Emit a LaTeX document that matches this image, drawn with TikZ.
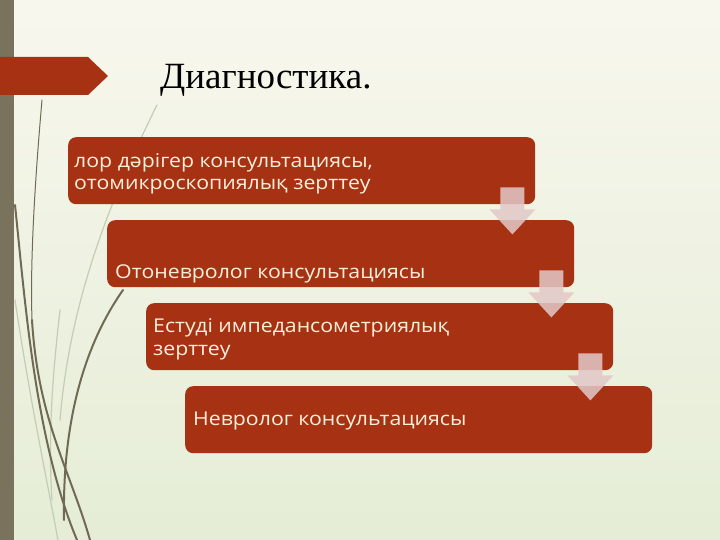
\documentclass[tikz,border=0pt]{standalone}
\usepackage{fontspec}
\setmainfont{Liberation Serif}
\newfontfamily\boxfont[FakeStretch=1.12]{Open Sans}
\usetikzlibrary{calc}
\definecolor{bgtop}{RGB}{248,247,238}
\definecolor{bgbot}{RGB}{229,237,214}
\definecolor{sidebar}{RGB}{121,114,92}
\definecolor{brick}{RGB}{166,50,19}
\definecolor{cream}{RGB}{252,240,218}
\definecolor{arrowfill}{RGB}{226,200,200}
\definecolor{grass}{RGB}{112,106,84}
\definecolor{grasslight}{RGB}{196,204,180}
\begin{document}
\begin{tikzpicture}[x=1pt,y=-1pt,
  stagebox/.style={fill=brick, rounded corners=8pt, minimum width=467pt,
    minimum height=67pt, anchor=north west, inner sep=0pt},
  stagetext/.style={anchor=base west, text=cream, align=left, inner sep=0pt,
    font=\boxfont\fontsize{19}{22.5}\selectfont},
  flowarrow/.style={fill=arrowfill, fill opacity=0.85},
  grassdark/.style={draw=grass, line width=2pt, line cap=round},
  grassthin/.style={draw=grass, line width=1pt, line cap=round},
  grasspale/.style={draw=grasslight, line width=1.2pt, line cap=round},
]
\useasboundingbox (0,0) rectangle (720,540);
\shade[top color=bgtop, bottom color=bgbot] (0,0) rectangle (720,540);
% side bar
\fill[sidebar] (0,0) rectangle (14,540);
% grass decoration
\draw[grasspale] (157,105) .. controls (110,200) and (70,300) .. (60,420);
\draw[grasspale] (15,300) .. controls (30,400) and (45,470) .. (58,540);
\draw[grasspale] (60,310) .. controls (52,380) and (48,440) .. (52,500);
\draw[grassthin] (42,100) .. controls (35,180) and (30,260) .. (32,320);
\draw[grassdark] (32,320) .. controls (38,420) and (70,470) .. (90,540);
\draw[grassdark] (15,205) .. controls (25,300) and (35,440) .. (77,540);
\draw[grassdark] (123,290) .. controls (95,330) and (62,400) .. (64,520);
% title marker
\fill[brick] (0,57) -- (88,57) -- (108,76) -- (88,95) -- (0,95) -- cycle;
\node[anchor=base west, inner sep=0pt, font=\fontsize{37}{40}\selectfont] (title) at (160,89) {Диагностика.};
% stages
\node[stagebox] (s1) at (68,137) {};
\node[stagebox] (s2) at (107,220) {};
\node[stagebox] (s3) at (146,303) {};
\node[stagebox] (s4) at (185,386) {};
\node[stagetext] (t1) at (74,190) {лор дәрігер консультациясы,\\отомикроскопиялық зерттеу};
\node[stagetext] (t2) at (115,278) {Отоневролог консультациясы};
\node[stagetext] (t3) at (153,355) {Естуді импедансометриялық\\зерттеу};
\node[stagetext] (t4) at (193,425) {Невролог консультациясы};
% flow arrows
\foreach \a/\b in {s1/s2, s2/s3, s3/s4}{
  \fill[flowarrow] ($(\a.south east)+(-35,-17)$) -- ($(\a.south east)+(-11,-17)$)
    -- ($(\a.south east)+(-11,5)$) -- ($(\a.south east)+(0,5)$)
    -- ($(\a.south east)+(-23,30)$) -- ($(\a.south east)+(-46,5)$)
    -- ($(\a.south east)+(-35,5)$) -- cycle;
}
\end{tikzpicture}
\end{document}
